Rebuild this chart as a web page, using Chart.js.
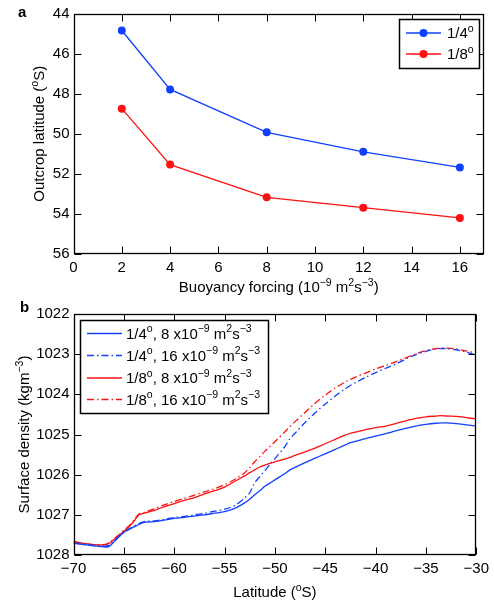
<!DOCTYPE html>
<html>
<head>
<meta charset="utf-8">
<script src="https://cdn.jsdelivr.net/npm/chart.js@4.4.1/dist/chart.umd.min.js"></script>
<style>
  body { margin: 0; background: #fff; }
  canvas { display: block; }
</style>
</head>
<body>
<canvas id="chartA" width="494" height="300"></canvas>
<canvas id="chartB" width="494" height="301"></canvas>
<script>
// panel a: outcrop latitude vs buoyancy forcing
const forcing = [2, 4, 8, 12, 16];
const outcrop14 = [44.85, 47.79, 49.93, 50.90, 51.68];
const outcrop18 = [48.75, 51.54, 53.17, 53.69, 54.20];
const forcingTicks = [0, 2, 4, 6, 8, 10, 12, 14, 16];

// panel b: surface density vs latitude
const lat = [-70, -69, -68, -67, -66.5, -66, -65.5, -65, -64.5, -64, -63.5, -63, -62, -61, -60,
  -59, -58, -57, -56, -55, -54, -53, -52.5, -52, -51.5, -51, -50.5, -50, -49, -48.5, -48,
  -47, -46, -45, -44, -43, -42.5, -42, -41, -40, -39, -38, -37, -36, -35, -34, -33.5, -33,
  -32, -31, -30];
const dens14f8 = [1027.71, 1027.74, 1027.77, 1027.80, 1027.79, 1027.68, 1027.55, 1027.44, 1027.37,
  1027.30, 1027.24, 1027.19, 1027.17, 1027.13, 1027.09, 1027.06, 1027.03, 1027.00, 1026.96,
  1026.92, 1026.84, 1026.70, 1026.61, 1026.50, 1026.40, 1026.29, 1026.21, 1026.13, 1025.97,
  1025.88, 1025.82, 1025.70, 1025.59, 1025.48, 1025.37, 1025.26, 1025.20, 1025.17, 1025.10,
  1025.04, 1024.98, 1024.91, 1024.85, 1024.79, 1024.75, 1024.72, 1024.71, 1024.71, 1024.73,
  1024.76, 1024.79];
const dens14f16 = [1027.70, 1027.73, 1027.76, 1027.78, 1027.76, 1027.66, 1027.54, 1027.42, 1027.35,
  1027.28, 1027.22, 1027.17, 1027.15, 1027.11, 1027.07, 1027.04, 1027.00, 1026.96, 1026.91,
  1026.86, 1026.77, 1026.58, 1026.45, 1026.20, 1026.05, 1025.90, 1025.75, 1025.60, 1025.30,
  1025.10, 1024.97, 1024.70, 1024.46, 1024.24, 1024.04, 1023.86, 1023.78, 1023.71, 1023.58,
  1023.46, 1023.35, 1023.25, 1023.12, 1023.01, 1022.93, 1022.87, 1022.86, 1022.86, 1022.89,
  1022.95, 1023.02];
const dens18f8 = [1027.67, 1027.71, 1027.74, 1027.75, 1027.72, 1027.62, 1027.52, 1027.41, 1027.30,
  1027.16, 1027.00, 1026.96, 1026.89, 1026.80, 1026.72, 1026.64, 1026.57, 1026.48, 1026.40,
  1026.31, 1026.17, 1026.03, 1025.95, 1025.88, 1025.81, 1025.76, 1025.72, 1025.68, 1025.61,
  1025.57, 1025.52, 1025.43, 1025.34, 1025.23, 1025.12, 1025.01, 1024.97, 1024.94, 1024.88,
  1024.83, 1024.79, 1024.73, 1024.66, 1024.60, 1024.56, 1024.54, 1024.53, 1024.54, 1024.55,
  1024.58, 1024.61];
const dens18f16 = [1027.66, 1027.72, 1027.74, 1027.74, 1027.70, 1027.60, 1027.50, 1027.38, 1027.28,
  1027.13, 1026.98, 1026.94, 1026.85, 1026.75, 1026.67, 1026.59, 1026.51, 1026.43, 1026.35,
  1026.25, 1026.12, 1025.95, 1025.82, 1025.68, 1025.55, 1025.42, 1025.30, 1025.18, 1024.93,
  1024.80, 1024.68, 1024.45, 1024.22, 1024.02, 1023.84, 1023.69, 1023.63, 1023.57, 1023.47,
  1023.37, 1023.28, 1023.19, 1023.09, 1022.99, 1022.91, 1022.86, 1022.85, 1022.85, 1022.87,
  1022.92, 1022.97];

const BLUE = '#1040ff';
const RED = '#ff1010';
const FONT = '"Liberation Sans", Arial, Helvetica, sans-serif';
const FS = 15;

Chart.defaults.font.family = FONT;
Chart.defaults.font.size = FS;
Chart.defaults.color = '#000';

// small rich text helper: "m^{2}s^{-3}" -> superscripts
function parseRich(str) {
  const parts = [];
  const re = /\^\{([^}]*)\}/g;
  let last = 0, m;
  while ((m = re.exec(str))) {
    if (m.index > last) parts.push([str.slice(last, m.index), false]);
    parts.push([m[1], true]);
    last = re.lastIndex;
  }
  if (last < str.length) parts.push([str.slice(last), false]);
  return parts;
}

function richWidth(ctx, parts, size) {
  let w = 0;
  parts.forEach(([t, sup]) => {
    ctx.font = (sup ? size * 0.7 : size) + 'px ' + FONT;
    w += ctx.measureText(t).width;
  });
  return w;
}

// y is the vertical middle of normal text
function drawRich(ctx, str, x, y, size, align) {
  const parts = parseRich(str);
  const w = richWidth(ctx, parts, size);
  let cx = align === 'center' ? x - w / 2 : (align === 'right' ? x - w : x);
  ctx.textAlign = 'left';
  ctx.textBaseline = 'alphabetic';
  const base = y + size * 0.36;
  parts.forEach(([t, sup]) => {
    ctx.font = (sup ? size * 0.7 : size) + 'px ' + FONT;
    ctx.fillText(t, cx, sup ? base - size * 0.45 : base);
    cx += ctx.measureText(t).width;
  });
}

// matlab style box, inward ticks, titles and boxed legend
const matlabBox = {
  id: 'matlabBox',
  afterDraw(chart, args, opts) {
    const { ctx, chartArea: a, scales } = chart;
    const L = Math.round(a.left) + 0.5, R = Math.round(a.right) - 0.5;
    const T = Math.round(a.top) + 0.5, B = Math.round(a.bottom) - 0.5;
    const len = 7;
    ctx.save();
    ctx.strokeStyle = '#000';
    ctx.lineWidth = 1;
    ctx.beginPath();
    scales.x.ticks.forEach(t => {
      const px = Math.round(scales.x.getPixelForValue(t.value)) + 0.5;
      ctx.moveTo(px, B); ctx.lineTo(px, B - len);
      ctx.moveTo(px, T); ctx.lineTo(px, T + len);
    });
    scales.y.ticks.forEach(t => {
      const py = Math.round(scales.y.getPixelForValue(t.value)) + 0.5;
      ctx.moveTo(L, py); ctx.lineTo(L + len, py);
      ctx.moveTo(R, py); ctx.lineTo(R - len, py);
    });
    ctx.stroke();
    ctx.lineWidth = 1.3;
    ctx.strokeRect(L, T, R - L, B - T);

    ctx.fillStyle = '#000';
    // axis titles
    drawRich(ctx, opts.xTitle, (a.left + a.right) / 2, opts.xTitleY, FS, 'center');
    ctx.save();
    ctx.translate(opts.yTitleX, (a.top + a.bottom) / 2);
    ctx.rotate(-Math.PI / 2);
    drawRich(ctx, opts.yTitle, 0, 0, FS, 'center');
    ctx.restore();
    // panel letter
    ctx.font = 'bold 15px ' + FONT;
    ctx.textAlign = 'left';
    ctx.textBaseline = 'middle';
    ctx.fillText(opts.letter, opts.letterX, opts.letterY);

    // legend
    const lg = opts.legend;
    ctx.fillStyle = '#fff';
    ctx.fillRect(lg.x, lg.y, lg.w, lg.h);
    ctx.lineWidth = 1.5;
    ctx.strokeStyle = '#000';
    ctx.strokeRect(lg.x + 0.5, lg.y + 0.5, lg.w, lg.h);
    chart.data.datasets.forEach((ds, i) => {
      const ry = lg.rowY[i];
      ctx.save();
      ctx.strokeStyle = ds.borderColor;
      ctx.lineWidth = ds.borderWidth;
      ctx.setLineDash(ds.borderDash || []);
      ctx.beginPath();
      ctx.moveTo(lg.lineX0, ry);
      ctx.lineTo(lg.lineX1, ry);
      ctx.stroke();
      ctx.restore();
      if (ds.pointRadius > 0) {
        ctx.fillStyle = ds.borderColor;
        ctx.beginPath();
        ctx.arc((lg.lineX0 + lg.lineX1) / 2, ry, ds.pointRadius, 0, Math.PI * 2);
        ctx.fill();
      }
      ctx.fillStyle = '#000';
      drawRich(ctx, ds.label, lg.textX, ry, FS, 'left');
    });
    ctx.restore();
  }
};

function axisCommon(extra) {
  return Object.assign({
    type: 'linear',
    grid: { display: false, drawTicks: false },
    border: { display: false },
    title: { display: false }
  }, extra);
}

const plainNum = v => String(v);

// ---- panel a
new Chart(document.getElementById('chartA'), {
  type: 'line',
  data: {
    datasets: [
      {
        label: '1/4^{o}',
        data: forcing.map((x, i) => ({ x: x, y: outcrop14[i] })),
        borderColor: BLUE, backgroundColor: BLUE,
        borderWidth: 1.3, pointRadius: 4, pointBorderWidth: 0, tension: 0
      },
      {
        label: '1/8^{o}',
        data: forcing.map((x, i) => ({ x: x, y: outcrop18[i] })),
        borderColor: RED, backgroundColor: RED,
        borderWidth: 1.3, pointRadius: 4, pointBorderWidth: 0, tension: 0
      }
    ]
  },
  options: {
    responsive: false,
    animation: false,
    layout: { padding: { top: 13.5, right: 10, left: 0, bottom: 0 } },
    scales: {
      x: axisCommon({
        min: 0, max: 17,
        ticks: { padding: 5, maxRotation: 0, autoSkip: false, callback: plainNum },
        afterBuildTicks: s => { s.ticks = forcingTicks.map(v => ({ value: v })); },
        afterFit: s => { s.height = 46; }
      }),
      y: axisCommon({
        min: 44, max: 56, reverse: true,
        ticks: { stepSize: 2, padding: 4, callback: plainNum },
        afterFit: s => { s.width = 73.5; }
      })
    },
    plugins: {
      legend: { display: false },
      tooltip: { enabled: false },
      matlabBox: {
        xTitle: 'Buoyancy forcing (10^{\u22129} m^{2}s^{\u22123})',
        xTitleY: 287,
        yTitle: 'Outcrop latitude (^{o}S)',
        yTitleX: 39,
        letter: 'a', letterX: 18, letterY: 13,
        legend: { x: 399, y: 19, w: 80, h: 49, rowY: [33, 54], lineX0: 406, lineX1: 441, textX: 447 }
      }
    }
  },
  plugins: [matlabBox]
});

// ---- panel b
function series(arr) {
  return lat.map((x, i) => ({ x: x, y: arr[i] }));
}
const DASHDOT = [7, 3, 1.5, 3];

new Chart(document.getElementById('chartB'), {
  type: 'line',
  data: {
    datasets: [
      { label: '1/4^{o}, 8 x10^{\u22129} m^{2}s^{\u22123}', data: series(dens14f8),
        borderColor: BLUE, borderWidth: 1.3, pointRadius: 0, tension: 0.3 },
      { label: '1/4^{o}, 16 x10^{\u22129} m^{2}s^{\u22123}', data: series(dens14f16),
        borderColor: BLUE, borderWidth: 1.3, pointRadius: 0, tension: 0.3, borderDash: DASHDOT },
      { label: '1/8^{o}, 8 x10^{\u22129} m^{2}s^{\u22123}', data: series(dens18f8),
        borderColor: RED, borderWidth: 1.3, pointRadius: 0, tension: 0.3 },
      { label: '1/8^{o}, 16 x10^{\u22129} m^{2}s^{\u22123}', data: series(dens18f16),
        borderColor: RED, borderWidth: 1.3, pointRadius: 0, tension: 0.3, borderDash: DASHDOT }
    ]
  },
  options: {
    responsive: false,
    animation: false,
    layout: { padding: { top: 14, right: 10, left: 0, bottom: 0 } },
    scales: {
      x: axisCommon({
        min: -70, max: -30,
        ticks: { stepSize: 5, padding: 5, maxRotation: 0, autoSkip: false,
          callback: v => v < 0 ? '\u2212' + Math.abs(v) : String(v) },
        afterFit: s => { s.height = 46; }
      }),
      y: axisCommon({
        min: 1022, max: 1028, reverse: true,
        ticks: { stepSize: 1, padding: 4, callback: plainNum },
        afterFit: s => { s.width = 73.5; }
      })
    },
    plugins: {
      legend: { display: false },
      tooltip: { enabled: false },
      matlabBox: {
        xTitle: 'Latitude (^{o}S)',
        xTitleY: 292,
        yTitle: 'Surface density (kgm^{\u22123})',
        yTitleX: 24,
        letter: 'b', letterX: 20, letterY: 8,
        legend: { x: 80, y: 20, w: 188, h: 93, rowY: [33.5, 55.5, 78, 99.5], lineX0: 87, lineX1: 122, textX: 126 }
      }
    }
  },
  plugins: [matlabBox]
});
</script>
</body>
</html>
